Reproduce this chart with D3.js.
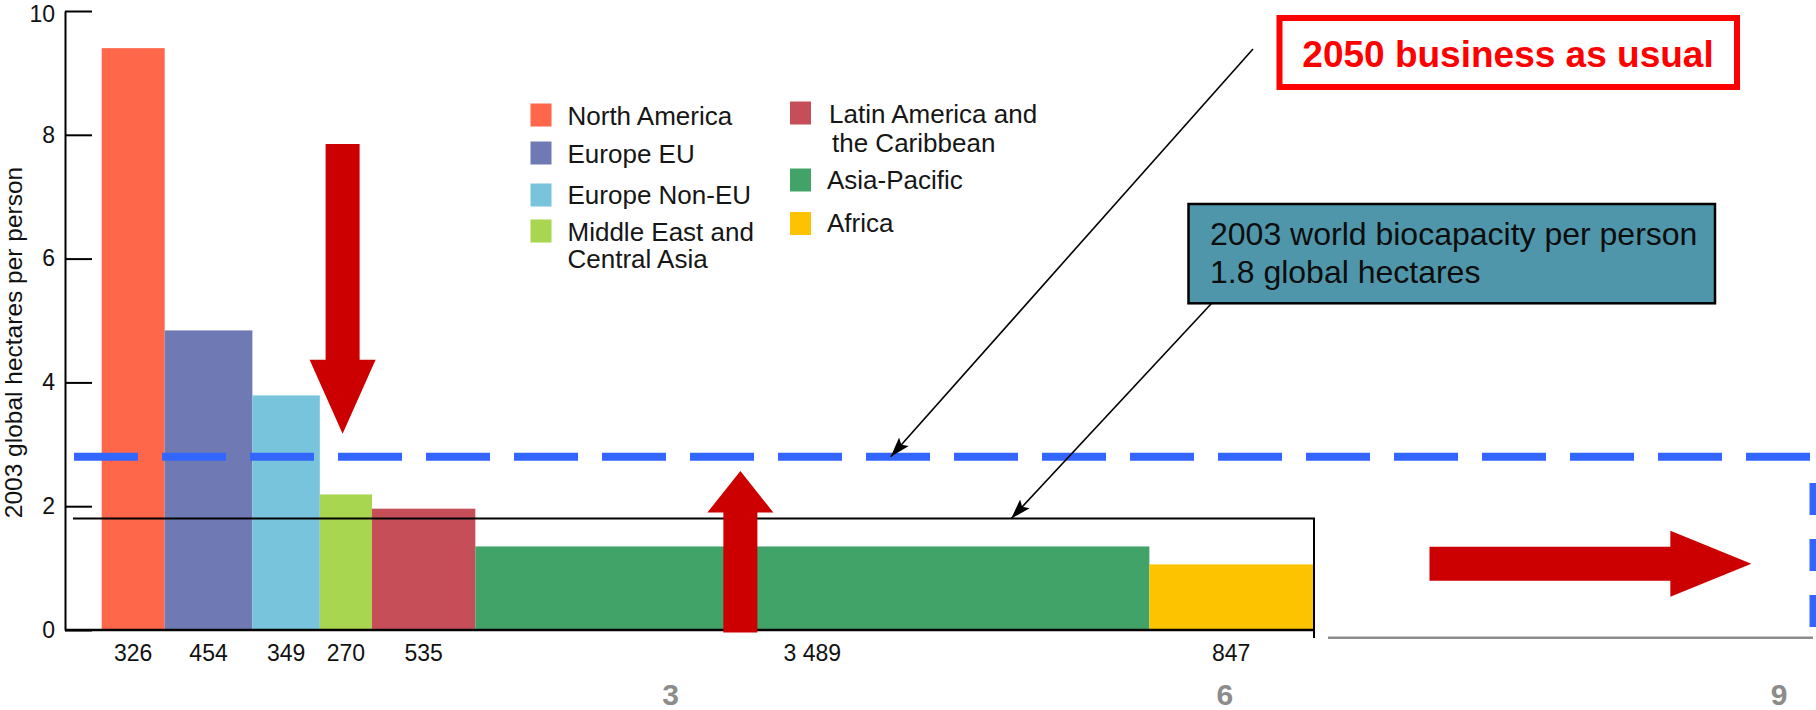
<!DOCTYPE html>
<html>
<head>
<meta charset="utf-8">
<script src="https://cdn.jsdelivr.net/npm/d3@7"></script>
<style>
  html, body { margin: 0; padding: 0; background: #fff; }
  svg { display: block; font-family: "Liberation Sans", Arial, Helvetica, sans-serif; }
</style>
</head>
<body>
<svg id="chart" width="1816" height="710"></svg>
<script>
// Ecological footprint per person by region (2003); bar width = population
const regions = ["North America", "Europe EU", "Europe Non-EU", "Middle East and Central Asia",
                 "Latin America and the Caribbean", "Asia-Pacific", "Africa"];
const legendLines = [["North America"], ["Europe EU"], ["Europe Non-EU"],
                     ["Middle East and", "Central Asia"], ["Latin America and", "the Caribbean"],
                     ["Asia-Pacific"], ["Africa"]];
const population = [326, 454, 349, 270, 535, 3489, 847];          // millions of people
const populationLabels = ["326", "454", "349", "270", "535", "3 489", "847"];
const footprint = [9.4, 4.84, 3.79, 2.19, 1.96, 1.35, 1.06];      // global hectares per person
const colors = ["#FF674B", "#6F7AB5", "#78C4DC", "#A8D650", "#C64E58", "#41A368", "#FDC300"];
const yTicks = [0, 2, 4, 6, 8, 10];
const billionTicks = [3, 6, 9];                                   // world population, billions
const biocapacity = 1.8;                                          // 2003 world biocapacity per person
const businessAsUsual = 2.8;                                      // 2050 footprint, business as usual

const svg = d3.select("#chart");
svg.append("rect").attr("width", 1816).attr("height", 710).attr("fill", "#fff");

const totalPop = d3.sum(population);
const x = d3.scaleLinear().domain([0, totalPop]).range([101.7, 1313]);
const y = d3.scaleLinear().domain([0, 10]).range([630, 11]);
const xBillion = d3.scaleLinear().domain([3, 9]).range([670.5, 1779]);

const ends = Array.from(d3.cumsum(population));
const bars = regions.map((r, i) => ({
  region: r, start: ends[i] - population[i], end: ends[i],
  value: footprint[i], color: colors[i], label: populationLabels[i]
}));

// Bars
svg.append("g").selectAll("rect").data(bars).join("rect")
  .attr("x", d => x(d.start))
  .attr("width", d => x(d.end) - x(d.start))
  .attr("y", d => y(d.value))
  .attr("height", d => y(0) - y(d.value))
  .attr("fill", d => d.color);

// Population labels under the bars
svg.append("g").selectAll("text").data(bars).join("text")
  .attr("x", d => (x(d.start) + x(d.end)) / 2)
  .attr("y", 660.5)
  .attr("text-anchor", "middle")
  .attr("font-size", 23)
  .attr("fill", "#111")
  .text(d => d.label);

// Y axis with inward ticks
const yAxis = svg.append("g")
  .attr("transform", "translate(65,0)")
  .call(d3.axisLeft(y).tickValues(yTicks).tickSize(-27).tickSizeOuter(0).tickPadding(10)
    .tickFormat(d3.format("d")));
yAxis.selectAll("path, line").attr("stroke", "#000").attr("stroke-width", 2);
yAxis.selectAll("text").attr("font-size", 23).attr("fill", "#111")
  .attr("font-family", "'Liberation Sans', Arial, sans-serif")
  .attr("dy", d => d === 10 ? "0.45em" : "0.32em");

svg.append("text")
  .attr("transform", `translate(22,${(y(0) + y(10)) / 2 + 22}) rotate(-90)`)
  .attr("text-anchor", "middle")
  .attr("font-size", 24.5)
  .attr("fill", "#111")
  .text("2003 global hectares per person");

// Baseline of the bar panel
svg.append("line")
  .attr("x1", 65).attr("x2", x(totalPop) + 1)
  .attr("y1", y(0)).attr("y2", y(0))
  .attr("stroke", "#000").attr("stroke-width", 2.5);

// Biocapacity level, closed on the right
svg.append("path")
  .attr("d", `M73,${y(biocapacity)} H${x(totalPop) + 1} V638`)
  .attr("fill", "none").attr("stroke", "#000").attr("stroke-width", 2);

// Second panel: population axis in billions
svg.append("line")
  .attr("x1", 1328).attr("x2", 1813).attr("y1", 637.7).attr("y2", 637.7)
  .attr("stroke", "#8C8C8C").attr("stroke-width", 2.5);
svg.append("g").selectAll("text").data(billionTicks).join("text")
  .attr("x", d => xBillion(d))
  .attr("y", 705)
  .attr("text-anchor", "middle")
  .attr("font-size", 30).attr("font-weight", "bold")
  .attr("fill", "#8C8C8C")
  .text(d => d);

// 2050 business-as-usual level (dashed)
svg.append("line")
  .attr("x1", 74).attr("x2", 1810)
  .attr("y1", y(businessAsUsual)).attr("y2", y(businessAsUsual))
  .attr("stroke", "#3366FF").attr("stroke-width", 8)
  .attr("stroke-dasharray", "64 24");
svg.append("line")
  .attr("x1", 1813).attr("x2", 1813)
  .attr("y1", 483).attr("y2", 630)
  .attr("stroke", "#3366FF").attr("stroke-width", 7)
  .attr("stroke-dasharray", "32 24");

// Block arrows (positions in chart units)
function blockArrow(x1, y1, x2, y2, shaft, head, headLen) {
  const dx = x2 - x1, dy = y2 - y1, L = Math.hypot(dx, dy);
  const ux = dx / L, uy = dy / L, px = -uy, py = ux;
  const bx = x2 - ux * headLen, by = y2 - uy * headLen;
  const p = [
    [x1 + px * shaft / 2, y1 + py * shaft / 2],
    [bx + px * shaft / 2, by + py * shaft / 2],
    [bx + px * head / 2, by + py * head / 2],
    [x2, y2],
    [bx - px * head / 2, by - py * head / 2],
    [bx - px * shaft / 2, by - py * shaft / 2],
    [x1 - px * shaft / 2, y1 - py * shaft / 2]
  ];
  return "M" + p.map(q => q.join(",")).join("L") + "Z";
}
const blockArrows = [
  { p1: 1247, v1: 7.85, p2: 1247, v2: 3.17, headLen: 74 },
  { p1: 3306, v1: -0.04, p2: 3306, v2: 2.57, headLen: 41.6 },
  { p1: 6873, v1: 1.07, p2: 8539, v2: 1.07, headLen: 81 }
];
svg.append("g").selectAll("path").data(blockArrows).join("path")
  .attr("d", d => blockArrow(x(d.p1), y(d.v1), x(d.p2), y(d.v2), 34, 66, d.headLen))
  .attr("fill", "#CC0000");

// Legend
const legendLayout = [
  { sx: 530.5, sy: 103.5, tx: 567.5, ty: 124.8, lh: 27 },
  { sx: 530.5, sy: 141.5, tx: 567.5, ty: 162.5, lh: 27 },
  { sx: 530.5, sy: 183.5, tx: 567.5, ty: 204.3, lh: 27 },
  { sx: 530.5, sy: 219.5, tx: 567.5, ty: 240.7, lh: 27.5 },
  { sx: 790, sy: 101.5, tx: 829, ty: 122.7, lh: 29 },
  { sx: 790, sy: 168.5, tx: 827, ty: 189.3, lh: 27 },
  { sx: 790, sy: 212, tx: 827, ty: 231.7, lh: 27 }
];
const legend = svg.append("g").selectAll("g").data(regions).join("g");
legend.append("rect")
  .attr("x", (d, i) => legendLayout[i].sx).attr("y", (d, i) => legendLayout[i].sy)
  .attr("width", 21).attr("height", 23)
  .attr("fill", (d, i) => colors[i]);
legend.append("text")
  .attr("font-size", 26).attr("fill", "#161616")
  .each(function (d, i) {
    const L = legendLayout[i];
    d3.select(this).selectAll("tspan").data(legendLines[i]).join("tspan")
      .attr("x", (t, j) => L.tx + (j > 0 && i === 4 ? 3 : 0))
      .attr("y", (t, j) => L.ty + j * L.lh)
      .text(t => t);
  });

// Callout pointers
const defs = svg.append("defs");
defs.append("marker")
  .attr("id", "tip").attr("markerUnits", "userSpaceOnUse")
  .attr("viewBox", "0 0 20 14").attr("refX", 20).attr("refY", 7)
  .attr("markerWidth", 20).attr("markerHeight", 14).attr("orient", "auto")
  .append("path").attr("d", "M0,0.5 L20,7 L0,13.5 L4,7 Z").attr("fill", "#000");

const pointers = [
  { from: [1253, 49], toP: 4084, toV: businessAsUsual },
  { from: [1211.7, 303.3], toP: 4708, toV: biocapacity }
];
svg.append("g").selectAll("line").data(pointers).join("line")
  .attr("x1", d => d.from[0]).attr("y1", d => d.from[1])
  .attr("x2", d => x(d.toP)).attr("y2", d => y(d.toV))
  .attr("stroke", "#000").attr("stroke-width", 1.6)
  .attr("marker-end", "url(#tip)");

// Callout boxes
svg.append("rect")
  .attr("x", 1279.5).attr("y", 18).attr("width", 457.5).attr("height", 69)
  .attr("fill", "#fff").attr("stroke", "#FF0000").attr("stroke-width", 6);
svg.append("text")
  .attr("x", 1508).attr("y", 66.7).attr("text-anchor", "middle")
  .attr("font-size", 37).attr("font-weight", "bold").attr("fill", "#FF0000")
  .text("2050 business as usual");

svg.append("rect")
  .attr("x", 1188.5).attr("y", 204).attr("width", 526.5).attr("height", 99.3)
  .attr("fill", "#4F96AB").attr("stroke", "#000").attr("stroke-width", 2.5);
svg.append("text")
  .attr("font-size", 32).attr("fill", "#0d0d0d")
  .selectAll("tspan")
  .data(["2003 world biocapacity per person", "1.8 global hectares"])
  .join("tspan")
  .attr("x", 1210).attr("y", (d, i) => 245 + i * 38.3)
  .text(d => d);
</script>
</body>
</html>
